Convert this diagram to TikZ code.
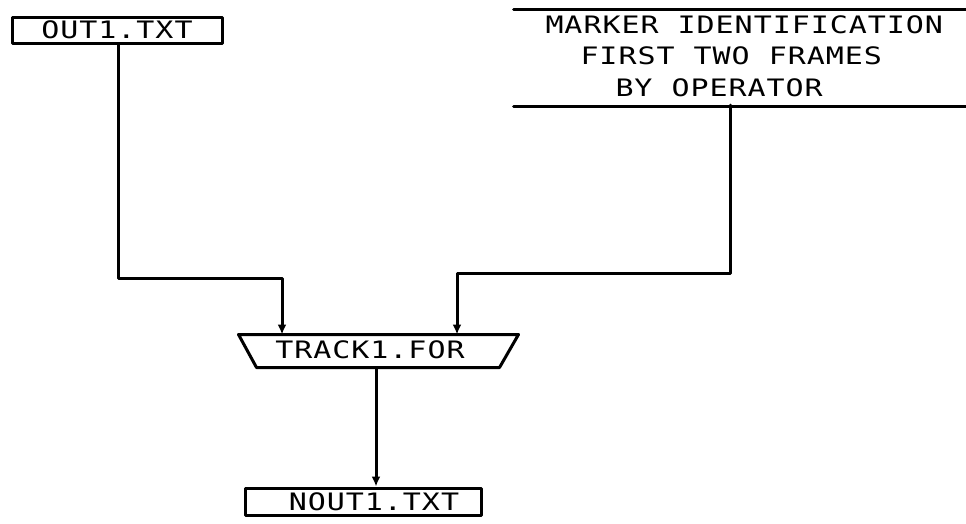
\documentclass[tikz,border=0pt]{standalone}
\usepackage{fontspec}
\newfontfamily\plotfont[FakeStretch=1.25,LetterSpace=4]{DejaVu Sans Mono}
\usetikzlibrary{arrows.meta}
\begin{document}
\begin{tikzpicture}[x=1pt,y=-1pt,
  line width=3pt, line cap=round, line join=round,
  box/.style={draw, rectangle, inner sep=0pt},
  area/.style={rectangle, inner sep=0pt, draw=none},
  lbl/.style={inner sep=0pt, font=\plotfont\fontsize{24}{28}\selectfont},
  arr/.style={-{Latex[length=10pt,width=9pt]}}]
\useasboundingbox (0,0) rectangle (966,523);
% OUT1.TXT
\node[box, minimum width=210pt, minimum height=26pt] (out1) at (117,30) {};
\node[lbl] (out1t) at (117,30) {OUT1.TXT};
% marker box (open)
\node[area, minimum width=451pt, minimum height=94pt] (mk) at (740.5,58) {};
\draw (mk.north west) -- (mk.north east);
\draw (mk.south west) -- (mk.south east);
\node[lbl, anchor=west] (mk1) at (544,25) {MARKER IDENTIFICATION};
\node[lbl, anchor=west] (mk2) at (579,56) {FIRST TWO FRAMES};
\node[lbl, anchor=west] (mk3) at (614,88) {BY OPERATOR};
% TRACK1.FOR trapezoid
\node[area, minimum width=277pt, minimum height=30pt] (track) at (378.5,351) {};
\draw (track.north west) -- (track.north east) -- ([xshift=-19pt]track.south east)
      -- ([xshift=18pt]track.south west) -- cycle;
\node[lbl] (trackt) at (370,350) {TRACK1.FOR};
% NOUT1.TXT
\node[box, minimum width=236pt, minimum height=27pt] (nout1) at (363,501.5) {};
\node[lbl] (nout1t) at (374,502) {NOUT1.TXT};
% connectors
\coordinate (mkout) at (730,105);
\coordinate (j1) at (282,278);
\coordinate (j2) at (457,273);
\draw[arr] (out1.south -| 118,0) |- (j1) -- (j1 |- track.north);
\draw[arr] (mkout) |- (j2) -- (j2 |- track.north);
\draw[arr] (track.south -| 376,0) -- (nout1.north -| 376,0);
\end{tikzpicture}
\end{document}
